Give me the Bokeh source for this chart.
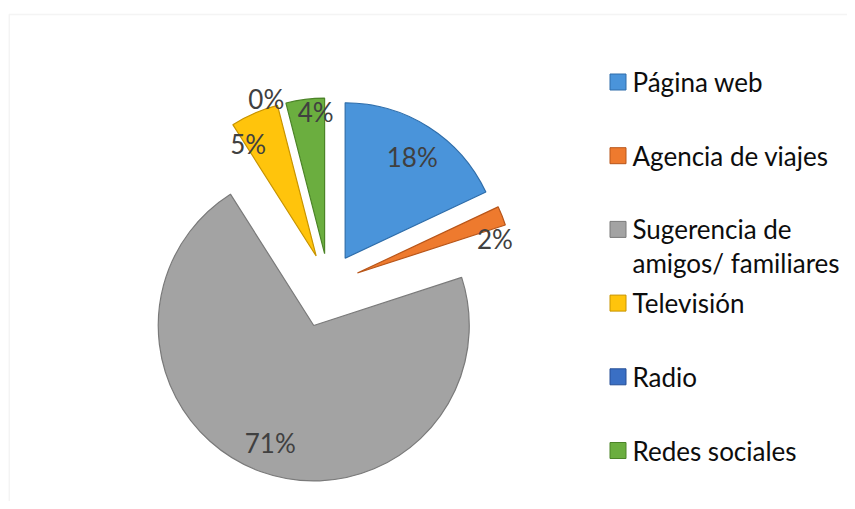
import math
from bokeh.plotting import figure
from bokeh.models import Range1d, BoxAnnotation
from bokeh.core.properties import value
from bokeh.embed import file_html
from bokeh.resources import INLINE

# ---- data ----
categories = ["Página web", "Agencia de viajes", "Sugerencia de\namigos/ familiares",
              "Televisión", "Radio", "Redes sociales"]
percent = [18, 2, 71, 5, 0, 4]
labels = ["18%", "2%", "71%", "5%", "0%", "4%"]

# ---- styles / layout ----
colors = ["#4A94DA", "#EE7A2E", "#A3A3A3", "#FFC40C", "#3A6FC4", "#6BAE3F"]
edge_colors = ["#2E6DAA", "#B8561A", "#7A7A7A", "#C89400", "#264F96", "#4C8428"]
explode = [0.20, 0.20, 0.28, 0.20, 0.20, 0.20]       # fraction of radius
label_f = [0.78, 0.91, 0.807, 0.84, 1.06, 0.915]     # label distance, fraction of radius
label_delta = [1.2, 7.8, 0.5, -8.0, -4.9, 3.6]      # degrees off mid-angle (clockwise)

W, H = 847, 501
CX, CY = 328, 217
R = 155.5
FONT = "Lato"
FS = "26px"

p = figure(width=W, height=H, output_backend="svg", toolbar_location=None,
           x_range=Range1d(0, W), y_range=Range1d(0, H), min_border=0)
p.axis.visible = False
p.grid.visible = False
p.outline_line_color = None
p.background_fill_color = "white"
p.border_fill_color = "white"

# chart border (only top & left visible in frame)
p.add_layout(BoxAnnotation(left=8.75, right=W + 50, top=H - 14, bottom=-50,
                           fill_alpha=0, line_color="#D9D9D9", line_width=1.5))

total = float(sum(percent))
cum = 0.0
for i, v in enumerate(percent):
    a0 = cum / total * 360.0
    a1 = (cum + v) / total * 360.0
    cum += v
    mid = (a0 + a1) / 2.0
    d = explode[i] * R
    ax = CX + d * math.sin(math.radians(mid))
    ay = CY + d * math.cos(math.radians(mid))
    if v > 0:
        p.wedge(x=[ax], y=[ay], radius=R, radius_units="screen",
                start_angle=math.radians(90 - a1), end_angle=math.radians(90 - a0),
                fill_color=colors[i], line_color=edge_colors[i], line_width=1.2)
    la = math.radians(mid + label_delta[i])
    lx = ax + label_f[i] * R * math.sin(la)
    ly = ay + label_f[i] * R * math.cos(la)
    p.text(x=[lx], y=[ly], text=[labels[i]], text_align="center", text_baseline="middle",
           text_font=value(FONT), text_font_size=FS, text_color="#404040")

# legend
LX, LY0, LSTEP = 617.5, 419.5, 73.7
for i, cat in enumerate(categories):
    y = LY0 - i * LSTEP
    p.scatter(x=[LX], y=[y], marker="square", size=16,
              fill_color=colors[i], line_color=edge_colors[i], line_width=1)
    for j, line in enumerate(cat.split("\n")):
        p.text(x=[LX + 14.5], y=[y - j * 34], text=[line], text_align="left",
               text_baseline="middle", text_font=value(FONT), text_font_size=FS,
               text_color="#0D0D0D")

open("out.html", "w").write(file_html(p, INLINE))
